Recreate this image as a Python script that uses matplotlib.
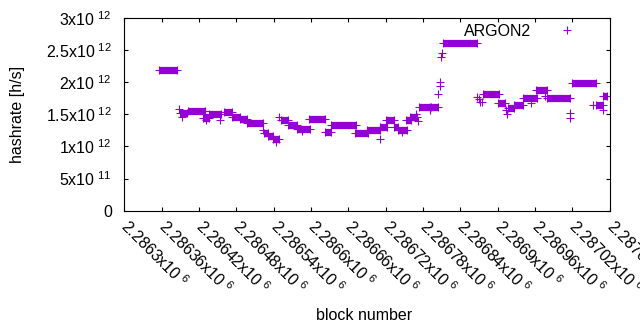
import matplotlib
matplotlib.use('Agg')
import matplotlib.pyplot as plt
import numpy as np
from matplotlib.ticker import FixedLocator, FuncFormatter

# tramos de bloques seguidos con el mismo hashrate (inicio, fin, valor)
run_start = [2286355, 2286389, 2286402, 2286426, 2286436, 2286460, 2286473, 2286486,
             2286497, 2286524, 2286531, 2286539, 2286552, 2286563, 2286577, 2286597,
             2286622, 2286632, 2286671, 2286690, 2286711, 2286720, 2286733, 2286740,
             2286752, 2286759, 2286773, 2286793, 2286812, 2286876, 2286900, 2286916,
             2286927, 2286940, 2286961, 2286980, 2287019, 2287058, 2287069]
run_end = [2286385, 2286401, 2286430, 2286436, 2286455, 2286473, 2286486, 2286497,
           2286523, 2286531, 2286539, 2286548, 2286563, 2286577, 2286598, 2286622,
           2286632, 2286672, 2286691, 2286711, 2286722, 2286733, 2286740, 2286754,
           2286760, 2286770, 2286791, 2286804, 2286866, 2286902, 2286911, 2286927,
           2286940, 2286963, 2286979, 2287016, 2287058, 2287069, 2287075]
run_value = [2.187e12, 1.522e12, 1.548e12, 1.444e12, 1.503e12, 1.537e12, 1.464e12, 1.421e12,
             1.361e12, 1.210e12, 1.164e12, 1.117e12, 1.413e12, 1.335e12, 1.268e12, 1.424e12,
             1.230e12, 1.335e12, 1.206e12, 1.257e12, 1.304e12, 1.413e12, 1.304e12, 1.257e12,
             1.413e12, 1.460e12, 1.620e12, 1.607e12, 2.617e12, 1.813e12, 1.673e12, 1.595e12,
             1.646e12, 1.751e12, 1.885e12, 1.751e12, 1.994e12, 1.646e12, 1.787e12]

# puntos sueltos
single_block = [2286388, 2286393, 2286431, 2286454, 2286523, 2286544, 2286548, 2286585,
                2286711, 2286746, 2286768, 2286772, 2286791, 2286804, 2286807, 2286807,
                2286809, 2286810, 2286866, 2286870, 2286871, 2286874, 2286913, 2286915,
                2286953, 2286976, 2287016, 2287017, 2287053, 2287070]
single_value = [1.583e12, 1.459e12, 1.413e12, 1.413e12, 1.257e12, 1.070e12, 1.459e12, 1.240e12,
                1.121e12, 1.226e12, 1.506e12, 1.397e12, 1.568e12, 1.810e12, 1.934e12, 2.005e12,
                2.389e12, 2.452e12, 1.776e12, 1.740e12, 1.693e12, 1.698e12, 1.568e12, 1.506e12,
                1.678e12, 1.787e12, 1.517e12, 1.449e12, 1.646e12, 1.568e12]

x_ticks = [2286300, 2286360, 2286420, 2286480, 2286540, 2286600, 2286660,
           2286720, 2286780, 2286840, 2286900, 2286960, 2287020, 2287080]
y_ticks = [0, 0.5e12, 1.0e12, 1.5e12, 2.0e12, 2.5e12, 3.0e12]

COLOR = '#9400d3'
MS = 5.2

plt.rcParams['font.family'] = ['Liberation Sans', 'DejaVu Sans']
plt.rcParams['mathtext.fontset'] = 'custom'
plt.rcParams['mathtext.rm'] = 'Liberation Sans'
plt.rcParams['font.size'] = 11.5


def gp_fmt(v, pos=None):
    # estilo gnuplot: 2.5x10^12
    if v == 0:
        return '0'
    e = int(np.floor(np.log10(abs(v))))
    m = v / 10 ** e
    return f"{m:g}x10" + r"$^{\ \mathregular{" + str(e) + "}}$"


fig = plt.figure(figsize=(6.4, 3.3), dpi=100)
ax = fig.add_axes([124.3 / 640, 1 - 210.7 / 330, (609.7 - 124.3) / 640, (210.7 - 18) / 330])

for s, e, v in zip(run_start, run_end, run_value):
    ax.plot([s, e], [v, v], color=COLOR, lw=MS, solid_capstyle='butt')
    ax.plot([s, e], [v, v], '+', color=COLOR, ms=MS, mew=0.8)

ax.plot(single_block, single_value, '+', color=COLOR, ms=MS, mew=0.8, label='ARGON2')

ax.set_xlim(x_ticks[0], x_ticks[-1])
ax.set_ylim(0, 3e12)
ax.xaxis.set_major_locator(FixedLocator(x_ticks))
ax.yaxis.set_major_locator(FixedLocator(y_ticks))
ax.xaxis.set_major_formatter(FuncFormatter(gp_fmt))
ax.yaxis.set_major_formatter(FuncFormatter(gp_fmt))
ax.tick_params(direction='in', length=3, width=0.8, top=True, right=True)
ax.tick_params(axis='y', pad=9)
ax.tick_params(axis='x', pad=9)
for lab in ax.get_xticklabels():
    lab.set_rotation(-45)
    lab.set_ha('left')
    lab.set_va('center')
    lab.set_rotation_mode('anchor')
for sp in ax.spines.values():
    sp.set_linewidth(0.8)

ax.legend(loc='upper right', bbox_to_anchor=(587 / 640, 1 - 24 / 330), bbox_transform=fig.transFigure,
          frameon=False, markerfirst=False, handlelength=2.5, handletextpad=1.0,
          borderpad=0, borderaxespad=0)

fig.text(18 / 640, 1 - 114 / 330, 'hashrate [h/s]', rotation=90, ha='center', va='center')
fig.text(364 / 640, 1 - 316 / 330, 'block number', ha='center', va='center')

plt.savefig('out.png', dpi=100)
plt.close()
